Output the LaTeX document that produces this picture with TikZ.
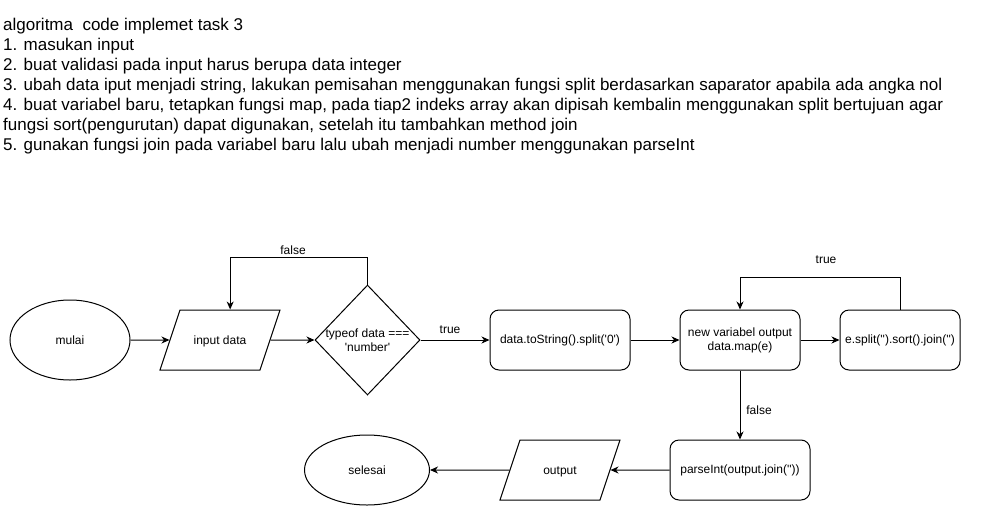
\documentclass[tikz,border=0pt]{standalone}
\usepackage{fontspec}
\newfontfamily\dio{Liberation Sans}
\usetikzlibrary{shapes.geometric,arrows.meta}
\begin{document}
\begin{tikzpicture}[x=1pt,y=-1pt,
  font=\dio\fontsize{12}{14}\selectfont,
  term/.style={ellipse, draw, line width=1pt, inner sep=0pt},
  io/.style={trapezium, trapezium left angle=71.565, trapezium right angle=108.435,
    trapezium stretches body=true, draw, line width=1pt, minimum width=120pt,
    text height=34.3pt, text depth=25.7pt, inner sep=0pt},
  proc/.style={rectangle, rounded corners=9pt, draw, line width=1pt, minimum height=60pt, inner sep=0pt, align=center},
  dec/.style={diamond, draw, line width=1pt, minimum width=105pt, minimum height=110pt, inner sep=0pt},
  conn/.style={draw, line width=1pt, -{Stealth[length=8pt,width=7pt,inset=2.5pt]}},
  lbl/.style={inner sep=0pt}
]
\useasboundingbox[fill=white] (0,0) rectangle (981,506);

\node[anchor=north west, align=left, inner sep=0pt,
  font=\dio\fontsize{17}{20}\selectfont] (desc) at (3,17.6) {algoritma~ code implemet task 3\\
1. masukan input\\
2. buat validasi pada input harus berupa data integer\\
3. ubah data iput menjadi string, lakukan pemisahan menggunakan fungsi split berdasarkan saparator apabila ada angka nol\\
4. buat variabel baru, tetapkan fungsi map, pada tiap2 indeks array akan dipisah kembalin menggunakan split bertujuan agar\\
fungsi sort(pengurutan) dapat digunakan, setelah itu tambahkan method join\\
5. gunakan fungsi join pada variabel baru lalu ubah menjadi number menggunakan parseInt};

\node[term, minimum width=120pt, minimum height=80pt] (mulai) at (70,340) {mulai};
\node[io] (input) at (220,340) {input data};
\node[dec] (dec) at (367.5,340) {\makebox[0pt]{\shortstack{typeof data ===\\'number'}}};
\node[proc, minimum width=140pt] (b1) at (560,340) {data.toString().split('0')};
\node[proc, minimum width=120pt] (b2) at (740,340) {new variabel output\\data.map(e)};
\node[proc, minimum width=120pt] (b3) at (900,340) {e.split('').sort().join('')};
\node[proc, minimum width=140pt] (b4) at (740,470) {parseInt(output.join(''))};
\node[io] (out) at (560,470) {output};
\node[term, minimum width=125pt, minimum height=70pt] (sel) at (367,470) {selesai};

\node[lbl] (lf1) at (293,250) {false};
\node[lbl] (lt1) at (450,330) {true};
\node[lbl] (lt2) at (826,260) {true};
\node[lbl] (lf2) at (759,410) {false};

\draw[conn] (mulai) -- (input);
\draw[conn] (input) -- (dec);
\draw[conn] (dec.north) -- ++(0,-27) -| (input.top side);
\draw[conn] (dec) -- (b1);
\draw[conn] (b1) -- (b2);
\draw[conn] (b2) -- (b3);
\draw[conn] (b3.north) -- ++(0,-32) -| (b2.north);
\draw[conn] (b2) -- (b4);
\draw[conn] (b4) -- (out);
\draw[conn] (out) -- (sel);
\end{tikzpicture}
\end{document}
